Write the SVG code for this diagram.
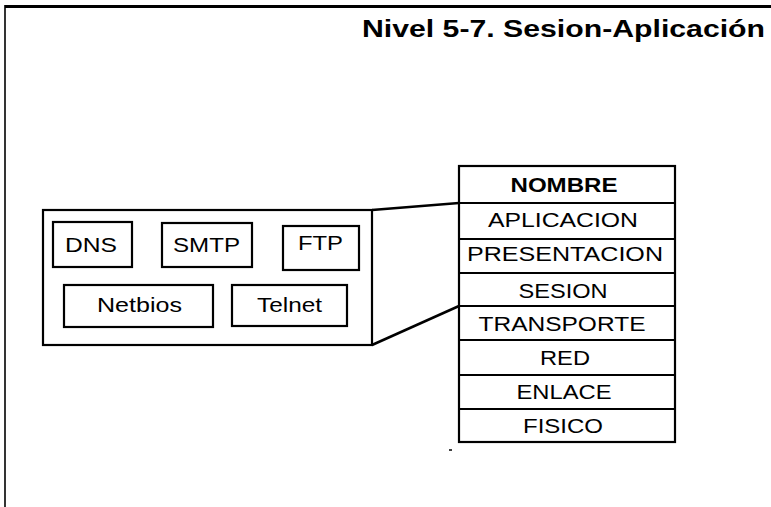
<svg xmlns="http://www.w3.org/2000/svg" width="771" height="507" viewBox="0 0 771 507">
<style>
text{font-family:"Liberation Sans",Arial,sans-serif;fill:#000}
.title{font-size:23px;font-weight:bold}
.lbl{font-size:21px}
.row{font-size:20px;text-anchor:middle}
.box{fill:#fff;stroke:#000;stroke-width:2.2}
.frame{fill:none;stroke:#000}
.con{fill:none;stroke:#000;stroke-width:2.5}
</style>
<rect width="771" height="507" fill="#fff"/>
<g id="frame">
<line class="frame" x1="5" y1="6.5" x2="771" y2="6.5" stroke-width="3"/>
<line class="frame" x1="5" y1="5" x2="5" y2="507" stroke-width="1.6"/>
<line class="frame" x1="449" y1="450" x2="452" y2="450" stroke-width="1.5"/>
</g>
<text class="title" x="362" y="37" textLength="403" lengthAdjust="spacingAndGlyphs">Nivel 5-7. Sesion-Aplicación</text>
<g id="protocolos">
<rect class="box" x="43" y="210" width="329" height="135" stroke-width="2.6"/>
</g>
<g id="dns"><rect class="box" x="53" y="222" width="79" height="45"/><text class="lbl" x="65" y="252" textLength="52" lengthAdjust="spacingAndGlyphs">DNS</text></g>
<g id="smtp"><rect class="box" x="162" y="223" width="90" height="44"/><text class="lbl" x="173" y="252" textLength="67" lengthAdjust="spacingAndGlyphs">SMTP</text></g>
<g id="ftp"><rect class="box" x="283" y="226" width="76" height="44"/><text class="lbl" x="298" y="250" textLength="45" lengthAdjust="spacingAndGlyphs">FTP</text></g>
<g id="netbios"><rect class="box" x="64" y="285" width="149" height="42"/><text class="lbl" x="97" y="312" textLength="85" lengthAdjust="spacingAndGlyphs">Netbios</text></g>
<g id="telnet"><rect class="box" x="232" y="285" width="115" height="41"/><text class="lbl" x="257" y="312" textLength="65" lengthAdjust="spacingAndGlyphs">Telnet</text></g>
<g id="pila">
<rect class="box" x="459" y="166" width="216" height="276" stroke-width="2.6"/>
<g stroke="#000" stroke-width="2.2">
<line x1="459" y1="203" x2="675" y2="203"/>
<line x1="459" y1="239" x2="675" y2="239"/>
<line x1="459" y1="273" x2="675" y2="273"/>
<line x1="459" y1="306" x2="675" y2="306"/>
<line x1="459" y1="340" x2="675" y2="340"/>
<line x1="459" y1="375" x2="675" y2="375"/>
<line x1="459" y1="409" x2="675" y2="409"/>
</g>
<text class="row" x="564" y="192" font-size="23" font-weight="bold" textLength="107" lengthAdjust="spacingAndGlyphs">NOMBRE</text>
<text class="row" x="563" y="227" textLength="150" lengthAdjust="spacingAndGlyphs">APLICACION</text>
<text class="row" x="565" y="261" textLength="196" lengthAdjust="spacingAndGlyphs">PRESENTACION</text>
<text class="row" x="563" y="298" textLength="89" lengthAdjust="spacingAndGlyphs">SESION</text>
<text class="row" x="562" y="331" textLength="167" lengthAdjust="spacingAndGlyphs">TRANSPORTE</text>
<text class="row" x="565" y="365" textLength="50" lengthAdjust="spacingAndGlyphs">RED</text>
<text class="row" x="564" y="399" textLength="95" lengthAdjust="spacingAndGlyphs">ENLACE</text>
<text class="row" x="563" y="433" textLength="80" lengthAdjust="spacingAndGlyphs">FISICO</text>
</g>
<g id="connectors">
<line class="con" x1="372" y1="210" x2="459" y2="203"/>
<line class="con" x1="372" y1="345" x2="459" y2="306"/>
</g>
</svg>
